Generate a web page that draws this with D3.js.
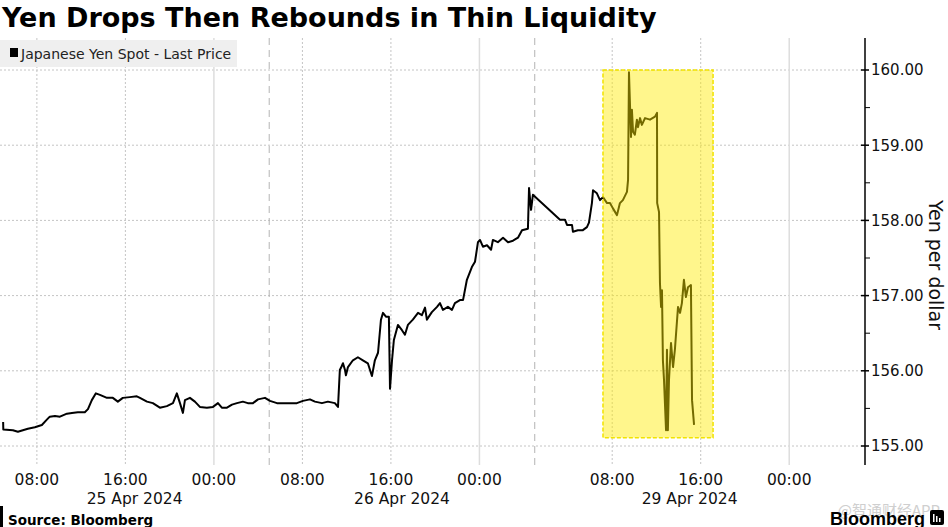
<!DOCTYPE html>
<html>
<head>
<meta charset="utf-8">
<script src="https://cdn.jsdelivr.net/npm/d3@7"></script>
<style>
  body { margin: 0; background: #fff; }
  svg { display: block; font-family: "DejaVu Sans", Verdana, sans-serif; }
</style>
</head>
<body>
<div id="chart"></div>
<script>
// chart values
var title = "Yen Drops Then Rebounds in Thin Liquidity";
var seriesName = "Japanese Yen Spot - Last Price";
var yLabel = "Yen per dollar";
var yTicks = [155, 156, 157, 158, 159, 160];
var xTicks = ["04-25 08:00", "04-25 16:00", "04-26 00:00", "04-26 08:00", "04-26 16:00",
              "04-27 00:00", "04-29 08:00", "04-29 16:00", "04-30 00:00"];
var dayLabels = ["25 Apr 2024", "26 Apr 2024", "29 Apr 2024"];
// session bounds: [start, end] per trading day (weekend removed between 2nd and 3rd)
var sessions = [["04-25 04:40", "04-26 05:00"], ["04-26 05:00", "04-27 05:00"], ["04-29 01:00", "04-30 05:00"]];
var viewEnd = "04-30 06:51";
var highlight = {from: "04-29 07:10", to: "04-29 17:07", low: 155.11, high: 160.0};

var sess25 = [["04-25 04:57",155.32],["04-25 04:58",155.22],["04-25 05:50",155.21],["04-25 06:17",155.19],["04-25 06:44",155.21],
  ["04-25 07:11",155.23],["04-25 07:49",155.25],["04-25 08:27",155.28],["04-25 08:54",155.35],["04-25 09:10",155.39],
  ["04-25 09:38",155.40],["04-25 10:05",155.39],["04-25 10:43",155.43],["04-25 11:10",155.44],["04-25 11:42",155.45],
  ["04-25 12:20",155.45],["04-25 12:37",155.49],["04-25 12:58",155.61],["04-25 13:20",155.70],["04-25 13:42",155.68],
  ["04-25 14:20",155.64],["04-25 14:52",155.64],["04-25 15:19",155.59],["04-25 15:46",155.64],["04-25 16:24",155.65],
  ["04-25 17:02",155.66],["04-25 17:19",155.64],["04-25 17:57",155.59],["04-25 18:29",155.57],["04-25 19:07",155.51],
  ["04-25 19:45",155.53],["04-25 20:18",155.57],["04-25 20:39",155.70],["04-25 20:56",155.57],["04-25 21:12",155.44],
  ["04-25 21:23",155.61],["04-25 21:50",155.64],["04-25 22:17",155.59],["04-25 22:44",155.52],["04-25 23:22",155.51],
  ["04-25 23:55",155.52],["04-26 00:22",155.57],["04-26 00:43",155.51],["04-26 01:11",155.51],["04-26 01:38",155.55],
  ["04-26 02:05",155.57],["04-26 02:37",155.59],["04-26 03:04",155.57],["04-26 03:32",155.57],["04-26 03:59",155.62],
  ["04-26 04:37",155.64]];

var sess26 = [["04-26 05:04",155.60],["04-26 05:42",155.57],["04-26 06:14",155.57],["04-26 06:52",155.57],["04-26 07:30",155.57],
  ["04-26 08:03",155.60],["04-26 08:41",155.62],["04-26 09:08",155.59],["04-26 09:46",155.57],["04-26 10:18",155.59],
  ["04-26 10:56",155.57],["04-26 11:13",155.52],["04-26 11:23",156.01],["04-26 11:29",156.04],["04-26 11:40",156.10],
  ["04-26 11:51",156.01],["04-26 11:56",155.94],["04-26 12:07",156.05],["04-26 12:34",156.14],["04-26 13:01",156.18],
  ["04-26 13:28",156.14],["04-26 13:55",156.10],["04-26 14:17",155.93],["04-26 14:33",156.14],["04-26 14:50",156.24],
  ["04-26 15:06",156.68],["04-26 15:17",156.77],["04-26 15:33",156.72],["04-26 15:49",156.72],["04-26 15:55",155.76],
  ["04-26 16:06",156.14],["04-26 16:16",156.41],["04-26 16:38",156.61],["04-26 17:00",156.54],["04-26 17:16",156.48],
  ["04-26 17:32",156.61],["04-26 17:59",156.68],["04-26 18:27",156.77],["04-26 18:48",156.74],["04-26 19:05",156.84],
  ["04-26 19:15",156.68],["04-26 19:42",156.78],["04-26 20:10",156.85],["04-26 20:26",156.90],["04-26 20:42",156.81],
  ["04-26 21:09",156.85],["04-26 21:31",156.81],["04-26 21:47",156.90],["04-26 22:14",156.94],["04-26 22:31",156.94],
  ["04-26 22:52",157.21],["04-26 23:19",157.38],["04-26 23:36",157.45],["04-26 23:52",157.71],["04-27 00:03",157.74],
  ["04-27 00:19",157.65],["04-27 00:41",157.67],["04-27 01:03",157.61],["04-27 01:13",157.74],["04-27 01:40",157.71],
  ["04-27 02:08",157.77],["04-27 02:35",157.71],["04-27 03:02",157.73],["04-27 03:29",157.77],["04-27 03:51",157.87],
  ["04-27 04:23",157.89],["04-27 04:29",158.43],["04-27 04:40",158.14],["04-27 04:50",158.34]];

var sess29 = [["04-29 03:17",158.01],["04-29 03:44",158.01],["04-29 03:55",157.94],["04-29 04:22",157.94],["04-29 04:27",157.85],
  ["04-29 04:54",157.87],["04-29 05:21",157.87],["04-29 05:43",157.91],["04-29 05:54",157.97],["04-29 06:10",158.23],
  ["04-29 06:16",158.40],["04-29 06:37",158.36],["04-29 06:54",158.27],["04-29 07:10",158.31],["04-29 07:32",158.23],
  ["04-29 07:48",158.23],["04-29 08:04",158.16],["04-29 08:26",158.07],["04-29 08:42",158.23],["04-29 08:58",158.27],
  ["04-29 09:20",158.38],["04-29 09:26",158.54],["04-29 09:31",159.97],["04-29 09:42",159.11],["04-29 09:47",159.47],
  ["04-29 09:53",159.18],["04-29 10:03",159.14],["04-29 10:14",159.34],["04-29 10:20",159.24],["04-29 10:31",159.36],
  ["04-29 10:41",159.27],["04-29 10:58",159.36],["04-29 11:25",159.34],["04-29 11:52",159.38],["04-29 12:03",159.43],
  ["04-29 12:04",158.23],["04-29 12:14",158.11],["04-29 12:19",157.17],["04-29 12:25",156.85],["04-29 12:30",157.07],
  ["04-29 12:35",156.14],["04-29 12:41",155.88],["04-29 12:52",155.21],["04-29 12:57",156.28],["04-29 13:02",155.21],
  ["04-29 13:08",155.88],["04-29 13:19",156.37],["04-29 13:30",156.05],["04-29 13:40",156.28],["04-29 13:57",156.85],
  ["04-29 14:08",156.77],["04-29 14:18",156.90],["04-29 14:29",157.21],["04-29 14:40",156.98],["04-29 14:51",157.11],
  ["04-29 15:07",157.14],["04-29 15:13",155.61],["04-29 15:24",155.28]];

var width = 948, height = 527,
    plot = {left: 0, right: 865, top: 38, bottom: 465},
    parse = function(s) { return d3.timeParse("%Y-%m-%d %H:%M")("2024-" + s); };

// piecewise time scale, weekend squeezed out
var dom = [parse(sessions[0][0]), parse(sessions[1][1]), parse(sessions[2][0]), parse(viewEnd)];
var hrs = ((dom[1] - dom[0]) + (dom[3] - dom[2])) / 36e5,
    pxh = (plot.right - plot.left) / hrs,
    xBreak = plot.left + (dom[1] - dom[0]) / 36e5 * pxh;
var x = d3.scaleTime().domain(dom).range([plot.left, xBreak, xBreak, plot.right]);
var y = d3.scaleLinear().domain([155, 160]).range([446, 70]);

var svg = d3.select("#chart").append("svg")
    .attr("width", width).attr("height", height);

// gridlines
svg.append("g").selectAll("line").data(yTicks).enter().append("line")
    .attr("x1", plot.left).attr("x2", plot.right)
    .attr("y1", d => y(d)).attr("y2", d => y(d))
    .attr("stroke", "#c4c4c4").attr("stroke-dasharray", "2,2");

svg.append("g").selectAll("line").data(xTicks).enter().append("line")
    .attr("x1", d => x(parse(d))).attr("x2", d => x(parse(d)))
    .attr("y1", plot.top).attr("y2", plot.bottom)
    .attr("stroke", d => d.slice(6) == "00:00" ? "#dddddd" : "#c4c4c4")
    .attr("stroke-width", d => d.slice(6) == "00:00" ? 1.5 : 1)
    .attr("stroke-dasharray", d => d.slice(6) == "00:00" ? null : "2,2");

svg.append("g").selectAll("line").data([sessions[1][0], sessions[2][0]]).enter().append("line")
    .attr("x1", d => x(parse(d))).attr("x2", d => x(parse(d)))
    .attr("y1", plot.top).attr("y2", plot.bottom)
    .attr("stroke", "#b4b4b4").attr("stroke-dasharray", "7,5");

// legend
svg.append("rect").attr("x", 0).attr("y", 40).attr("width", 237).attr("height", 27).attr("fill", "#efefef");
svg.append("rect").attr("x", 10).attr("y", 48).attr("width", 8).attr("height", 9).attr("fill", "#000");
svg.append("text").attr("x", 21).attr("y", 58.5).attr("font-size", 14).attr("fill", "#222").text(seriesName);

// price line
var pts = sess25.concat(sess26, sess29);
var line = d3.line().x(d => x(parse(d[0]))).y(d => y(d[1]));
svg.append("path").datum(pts).attr("d", line)
    .attr("fill", "none").attr("stroke", "#000").attr("stroke-width", 2)
    .attr("stroke-linejoin", "round");

// highlight box over the Monday moves
svg.append("rect")
    .attr("x", x(parse(highlight.from))).attr("width", x(parse(highlight.to)) - x(parse(highlight.from)))
    .attr("y", y(highlight.high)).attr("height", y(highlight.low) - y(highlight.high))
    .attr("fill", "rgb(255,236,0)").attr("fill-opacity", 0.45)
    .attr("stroke", "#f2e300").attr("stroke-width", 1.5).attr("stroke-dasharray", "4,2");

// right axis
var ax = svg.append("g").attr("transform", "translate(" + plot.right + ",0)");
ax.append("line").attr("y1", plot.top).attr("y2", plot.bottom).attr("stroke", "#000").attr("stroke-width", 1.5);
ax.selectAll(".maj").data(yTicks).enter().append("line")
    .attr("x1", -4).attr("x2", 4).attr("y1", d => y(d)).attr("y2", d => y(d))
    .attr("stroke", "#000").attr("stroke-width", 1.5);
ax.selectAll(".min").data(yTicks.slice(0, -1).map(d => d + 0.5)).enter().append("line")
    .attr("x1", 0).attr("x2", 5).attr("y1", d => y(d)).attr("y2", d => y(d))
    .attr("stroke", "#000");
ax.selectAll("text").data(yTicks).enter().append("text")
    .attr("x", 6).attr("y", d => y(d)).attr("dy", "0.36em")
    .attr("font-size", 15).attr("fill", "#111")
    .text(d => d3.format(".2f")(d));
svg.append("text")
    .attr("transform", "translate(929,265) rotate(90)")
    .attr("text-anchor", "middle").attr("font-size", 19).attr("fill", "#111")
    .text(yLabel);

// x labels
svg.append("g").selectAll("text").data(xTicks).enter().append("text")
    .attr("x", d => x(parse(d))).attr("y", 485)
    .attr("text-anchor", "middle").attr("font-size", 15.5).attr("fill", "#111")
    .text(d => d.slice(6));
svg.append("g").selectAll("text").data(dayLabels).enter().append("text")
    .attr("x", (d, i) => (x(parse(sessions[i][0])) + x(parse(sessions[i][1]))) / 2).attr("y", 504)
    .attr("text-anchor", "middle").attr("font-size", 15.5).attr("fill", "#111")
    .text(d => d);

// title and footer
svg.append("text").attr("x", 2).attr("y", 27).attr("font-size", 27).attr("font-weight", "bold")
    .attr("fill", "#000").text(title);
svg.append("rect").attr("x", 0).attr("y", 506).attr("width", 3).attr("height", 21).attr("fill", "#000");
svg.append("text").attr("x", 8).attr("y", 525).attr("font-size", 13.5).attr("font-weight", "bold")
    .attr("fill", "#000").text("Source: Bloomberg");
svg.append("text").attr("x", 940).attr("y", 516).attr("text-anchor", "end").attr("font-size", 15)
    .attr("fill", "#cfcfcf").attr("font-family", "'Noto Sans CJK SC', sans-serif").text("@智通财经APP");
svg.append("text").attr("x", 925).attr("y", 525).attr("text-anchor", "end").attr("font-size", 18)
    .attr("font-family", "'Liberation Sans', Arial, sans-serif")
    .attr("font-weight", "bold").attr("fill", "#000").text("Bloomberg");
svg.append("rect").attr("x", 930).attr("y", 510).attr("width", 14).attr("height", 15).attr("rx", 2).attr("fill", "#000");
svg.append("g").selectAll("rect").data([3, 6, 9]).enter().append("rect")
    .attr("x", d => 930 + d).attr("y", (d, i) => 514 + i * 2).attr("width", 1.5).attr("height", (d, i) => 8 - i * 2)
    .attr("fill", "#fff");
</script>
</body>
</html>
